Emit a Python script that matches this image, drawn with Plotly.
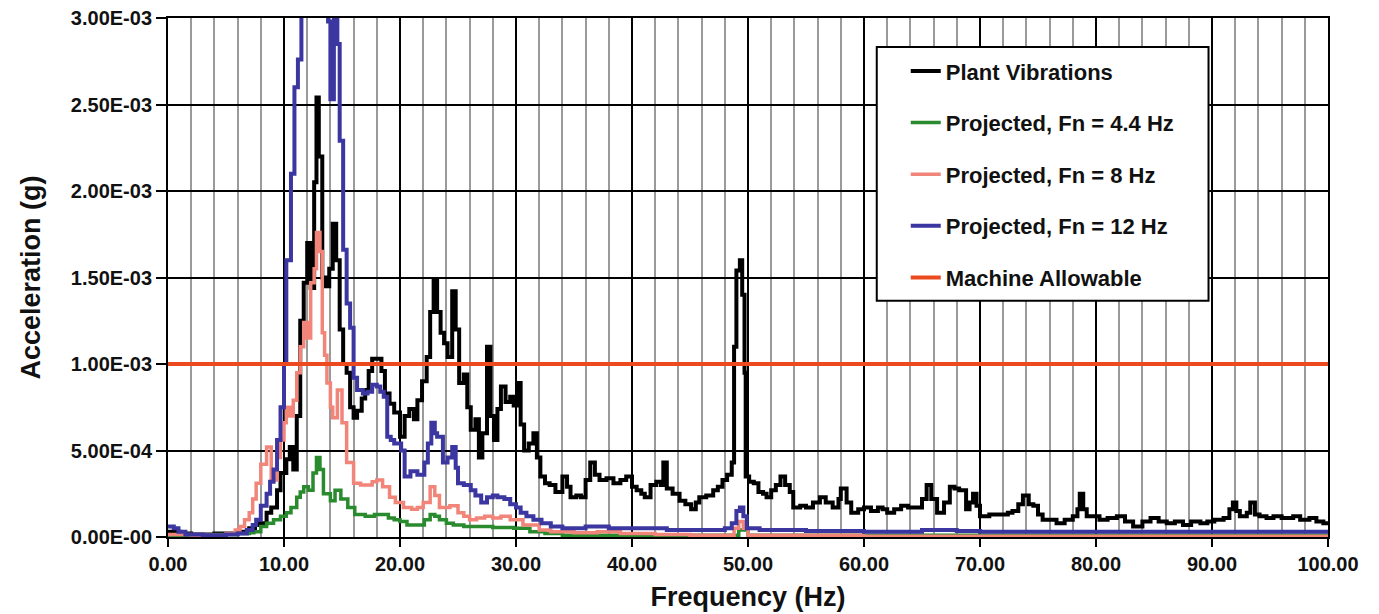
import plotly.graph_objects as go

# values in units of 1E-4 g
plant_f = [0, 1, 2, 3, 4, 5, 6, 7, 7.5, 7.9, 8.5, 8.9, 9.4, 9.7, 10.2, 10.5, 10.8, 11.1, 11.4, 11.7,
           12.0, 12.3, 12.6, 12.8, 13.0, 13.3, 13.6, 13.9, 14.2, 14.5, 14.8, 15.1, 15.4, 15.7, 16.0,
           16.3, 16.7, 17.0, 17.3, 17.6, 18.0, 18.4, 18.7, 19.1, 19.5, 20.0, 20.4, 20.8, 21.2, 21.5,
           21.9, 22.3, 22.6, 22.9, 23.2, 23.5, 23.8, 24.1, 24.5, 24.8, 25.1, 25.5, 25.8, 26.1, 26.5,
           26.8, 27.1, 27.5, 27.8, 28.1, 28.4, 28.7, 29.1, 29.5, 29.8, 30.1, 30.4, 30.7, 31.1, 31.5,
           31.8, 32.1, 32.5, 32.9, 33.4, 34.0, 34.4, 34.7, 35.2, 35.6, 36.0, 36.4, 36.8, 37.2, 37.8,
           38.4, 39.0, 39.5, 40.0, 40.4, 40.8, 41.1, 41.6, 42.1, 42.5, 42.7, 43.0, 43.5, 44.1, 44.6,
           45.1, 45.5, 45.8, 46.4, 47.0, 47.4, 47.8, 48.2, 48.6, 48.8, 49.0, 49.3, 49.5, 49.7, 49.8,
           50.1, 50.5, 50.9, 51.3, 51.6, 52.0, 52.4, 52.8, 53.2, 53.6, 53.9, 54.5, 55.0, 55.6, 56.2,
           56.7, 57.3, 57.8, 58.0, 58.5, 58.9, 59.5, 60.0, 60.6, 61.2, 61.6, 62.0, 62.6, 63.2, 63.8,
           64.5, 65.0, 65.4, 65.8, 66.3, 66.9, 67.4, 67.8, 68.2, 68.8, 69.1, 69.4, 69.7, 70.0, 70.8,
           71.7, 72.4, 72.8, 73.3, 73.7, 74.2, 74.6, 75.0, 75.4, 76.0, 76.6, 77.3, 78.0, 78.4, 78.6,
           78.9, 79.2, 80.3, 81.0, 81.8, 82.5, 83.2, 84.0, 84.7, 85.4, 86.1, 86.8, 87.5, 88.2, 89.0,
           89.6, 90.2, 91.0, 91.5, 91.8, 92.1, 92.4, 93.0, 93.3, 93.7, 94.1, 94.7, 95.3, 96.0, 97.0,
           97.6, 98.4, 99.0, 99.6, 100]
plant_a = [0.3, 0.2, 0.15, 0.15, 0.2, 0.2, 0.3, 0.5, 0.7, 0.8, 1.4, 1.7, 2.7, 3.7, 4.5, 5.2, 3.9, 7.0, 12.5, 14.7,
           17.0, 14.4, 20.5, 25.4, 22.0, 15.0, 14.5, 15.5, 18.1, 16.0, 12.0, 10.0, 9.5, 7.5, 6.9,
           7.3, 8.0, 8.5, 9.6, 10.3, 10.3, 9.6, 8.3, 7.7, 7.2, 5.8, 7.0, 7.4, 6.8, 7.9,
           9.0, 10.4, 13.0, 14.9, 13.0, 11.8, 11.2, 10.4, 14.2, 12.0, 8.9, 9.4, 7.5, 6.2, 6.8,
           4.6, 6.0, 11.0, 7.0, 5.6, 7.4, 8.7, 7.8, 8.1, 7.6, 8.9, 6.5, 5.0, 5.4, 6.0,
           4.6, 3.5, 3.1, 3.0, 2.6, 3.5, 2.9, 2.3, 2.4, 2.3, 3.3, 4.3, 3.6, 3.3, 3.4,
           3.1, 3.3, 3.5, 2.9, 2.7, 2.5, 2.3, 3.0, 3.2, 3.0, 4.3, 2.8, 2.5, 2.1, 1.9,
           1.6, 2.0, 2.3, 2.4, 2.7, 2.9, 3.3, 3.6, 4.3, 11.0, 15.4, 16.0, 14.0, 9.5, 3.5,
           3.2, 3.1, 2.6, 2.5, 2.3, 2.7, 3.0, 3.5, 3.0, 2.6, 1.7, 1.8, 1.7, 2.0, 2.3,
           2.0, 1.7, 2.2, 2.8, 2.0, 1.4, 1.6, 1.7, 1.5, 1.7, 1.6, 1.4, 1.6, 1.8, 1.7,
           1.7, 2.2, 3.0, 2.2, 1.4, 2.0, 2.9, 2.8, 2.7, 1.6, 2.0, 2.5, 1.8, 1.2, 1.3,
           1.3, 1.4, 1.5, 1.9, 2.4, 1.9, 1.8, 1.3, 1.0, 1.0, 0.8, 1.0, 1.2, 1.6, 2.5,
           1.6, 1.2, 1.0, 1.1, 1.2, 0.9, 0.6, 0.9, 1.1, 0.9, 0.8, 0.9, 0.7, 0.9, 0.8,
           0.9, 1.0, 1.1, 1.6, 2.0, 1.5, 1.2, 1.4, 2.0, 1.3, 1.2, 1.1, 1.2, 1.1, 1.2,
           1.0, 1.1, 0.9, 0.8, 0.7]

fn44_f = [0, 2, 4, 6, 7, 7.4, 8.0, 8.5, 9.1, 9.7, 10.2, 10.6, 11.1, 11.4, 11.7, 12.1, 12.5, 12.8, 13.1,
          13.4, 14.0, 14.4, 14.9, 15.5, 16.1, 17.0, 17.8, 18.4, 19.0, 19.5, 20.0, 20.6, 21.5, 22.1,
          22.6, 23.0, 23.4, 24.0, 24.6, 25.5, 26.9, 28.0, 29.8, 31.2, 32.5, 34, 40, 48, 49.2, 50, 100]
fn44_a = [0.1, 0.1, 0.15, 0.2, 0.25, 0.3, 0.6, 0.8, 1.0, 1.2, 1.4, 1.7, 2.3, 2.6, 2.9, 2.7, 3.7, 4.6, 3.9,
          2.5, 2.1, 2.7, 2.2, 1.7, 1.3, 1.2, 1.3, 1.3, 1.1, 1.0, 0.9, 0.7, 0.7, 1.0,
          1.3, 1.2, 1.0, 0.8, 0.7, 0.6, 0.6, 0.55, 0.5, 0.3, 0.2, 0.1, 0.1, 0.1, 0.4, 0.1, 0.05]

fn8_f = [0, 2, 4, 5, 5.8, 6.2, 6.6, 7.0, 7.3, 7.6, 8.0, 8.5, 8.9, 9.4, 9.7, 10.0, 10.2, 10.5, 10.8,
         11.1, 11.4, 11.7, 12.0, 12.3, 12.6, 12.8, 13.1, 13.3, 13.5, 13.7, 14.0, 14.2, 14.6, 15.0,
         15.4, 16.0, 16.6, 17.2, 17.6, 18.0, 18.5, 19.1, 19.6, 20.3, 21.0, 21.5, 22.0, 22.6, 23.0,
         23.4, 24.3, 25.0, 25.5, 26.0, 26.6, 27.3, 28.0, 28.7, 29.5, 30.6, 32.0, 33.0, 35.0, 37.0,
         39, 42, 45, 48, 48.8, 49.2, 49.6, 50, 60, 100]
fn8_a = [0.15, 0.1, 0.1, 0.2, 0.4, 0.6, 1.0, 1.4, 2.2, 3.1, 4.2, 5.2, 3.3, 4.6, 5.6, 6.6, 7.5, 7.0, 7.9,
         9.5, 11.0, 12.4, 11.5, 14.7, 15.5, 17.6, 16.5, 11.8, 10.5, 8.9, 7.5, 6.9, 8.5, 6.6,
         4.3, 3.1, 3.0, 3.0, 3.2, 3.3, 2.9, 2.3, 2.0, 1.7, 1.6, 1.7, 2.0, 2.9, 2.4,
         1.7, 1.8, 1.4, 1.2, 1.0, 1.1, 1.2, 1.1, 1.2, 1.0, 0.7, 0.4, 0.3, 0.25, 0.3,
         0.2, 0.15, 0.1, 0.1, 0.5, 0.9, 0.5, 0.1, 0.05, 0.05]

fn12_f = [0, 0.5, 0.9, 1.5, 3, 5, 6, 6.8, 7.3, 7.6, 8.0, 8.5, 8.8, 9.1, 9.4, 9.7, 10.0, 10.2, 10.6,
          10.9, 11.2, 11.5, 12.0, 13.0, 13.6, 13.8, 14.0, 14.3, 14.6, 14.8, 15.1, 15.4, 15.7, 16.0,
          16.3, 16.8, 17.2, 17.6, 18.0, 18.3, 18.6, 18.9, 19.2, 19.5, 20.1, 20.4, 20.9, 21.5, 22.1,
          22.4, 22.7, 23.0, 23.2, 23.7, 24.1, 24.5, 24.8, 25.0, 25.5, 26.1, 26.5, 27.0, 27.5, 28.0,
          28.4, 29.0, 29.5, 30.0, 30.4, 30.9, 31.5, 32.2, 33.0, 34.0, 36.0, 38.0, 40.0, 42.0, 43.0,
          46.0, 48.0, 48.6, 49.0, 49.3, 49.6, 49.9, 51.0, 55.0, 60.0, 65.0, 68.0, 70.0, 80, 90, 100]
fn12_a = [0.6, 0.5, 0.3, 0.15, 0.1, 0.15, 0.2, 0.4, 0.7, 1.0, 1.8, 2.5, 3.2, 3.9, 5.6, 7.5, 10.0, 16.0, 21.0,
          26.0, 27.6, 32, 35, 35, 34, 29.8, 25.3, 31, 28.5, 22.9, 16.6, 13.5, 12.1, 9.2,
          8.5, 8.3, 8.4, 8.8, 8.7, 8.4, 8.1, 5.8, 5.6, 5.4, 5.0, 3.5, 3.8, 3.6, 4.3,
          5.4, 6.6, 6.0, 5.8, 4.3, 4.6, 5.2, 4.0, 3.1, 3.0, 2.7, 2.4, 2.0, 2.3, 2.4,
          2.3, 2.2, 1.9, 1.7, 1.4, 1.2, 1.0, 0.8, 0.6, 0.5, 0.6, 0.5, 0.5, 0.5, 0.4,
          0.4, 0.5, 0.8, 1.5, 1.7, 1.2, 0.5, 0.4, 0.35, 0.3, 0.4, 0.35, 0.3, 0.3, 0.3, 0.3]

allowable = 1.0e-3
y_ticks = [0, 5e-4, 1e-3, 1.5e-3, 2e-3, 2.5e-3, 3e-3]
y_labels = ["0.00E-00", "5.00E-04", "1.00E-03", "1.50E-03", "2.00E-03", "2.50E-03", "3.00E-03"]
x_ticks = [0, 10, 20, 30, 40, 50, 60, 70, 80, 90, 100]
x_labels = ["%.2f" % v for v in x_ticks]

series = [
    ("Plant Vibrations", plant_f, plant_a, "#000000", 4),
    ("Projected, Fn = 4.4 Hz", fn44_f, fn44_a, "#2A8A2E", 3.5),
    ("Projected, Fn = 8 Hz", fn8_f, fn8_a, "#F2857A", 3.5),
    ("Projected, Fn = 12 Hz", fn12_f, fn12_a, "#3B36A0", 4),
]

fig = go.Figure()
for i, (name, f, a, color, w) in enumerate(series):
    fig.add_trace(go.Scatter(x=f, y=[v * 1e-4 for v in a], name=name, mode="lines",
                             line=dict(color=color, width=w, shape="hv"), legendgroup=str(i)))

fig.add_trace(go.Scatter(x=[0, 100], y=[allowable, allowable], name="Machine Allowable", mode="lines",
                         line=dict(color="#EC4A1E", width=4), legendgroup="5"))

# legend frame, wider than plotly's own box
fig.add_shape(type="rect", xref="paper", yref="paper", x0=0.611, x1=0.897, y0=0.455, y1=0.944,
              fillcolor="white", line=dict(color="black", width=2), layer="above")

fig.update_layout(
    width=1379, height=614,
    margin=dict(l=160, r=59, t=10, b=85),
    paper_bgcolor="white", plot_bgcolor="white",
    font=dict(family="Liberation Sans, Arial, sans-serif", color="#111111"),
    showlegend=True,
    legend=dict(x=0.636, y=0.938, xanchor="left", yanchor="top",
                bgcolor="rgba(0,0,0,0)", borderwidth=0,
                font=dict(size=22, family="Liberation Sans, Arial, sans-serif", weight="bold"),
                tracegroupgap=20, traceorder="grouped"),
)
fig.update_xaxes(
    range=[0, 100], tickvals=x_ticks, ticktext=x_labels, automargin=False,
    showgrid=True, gridcolor="black", gridwidth=2,
    minor=dict(dtick=2, showgrid=True, gridcolor="#9a9a9a", gridwidth=2),
    ticks="outside", ticklen=8, tickwidth=2, tickcolor="black",
    showline=True, linecolor="black", linewidth=2, mirror=True, zeroline=False,
    tickfont=dict(size=20, weight="bold"), ticklabeloverflow="allow",
    title=dict(text="Frequency (Hz)", font=dict(size=27, weight="bold"), standoff=13),
)
fig.update_yaxes(
    range=[0, 3e-3], tickvals=y_ticks, ticktext=y_labels, automargin=False,
    showgrid=True, gridcolor="black", gridwidth=2,
    ticks="outside", ticklen=10, tickwidth=2, tickcolor="black",
    showline=True, linecolor="black", linewidth=2, mirror=True, zeroline=False,
    tickfont=dict(size=20, weight="bold"), ticklabeloverflow="allow",
    title=dict(text="Acceleration (g)", font=dict(size=27, weight="bold"), standoff=22),
)

fig.write_html("out.html")
